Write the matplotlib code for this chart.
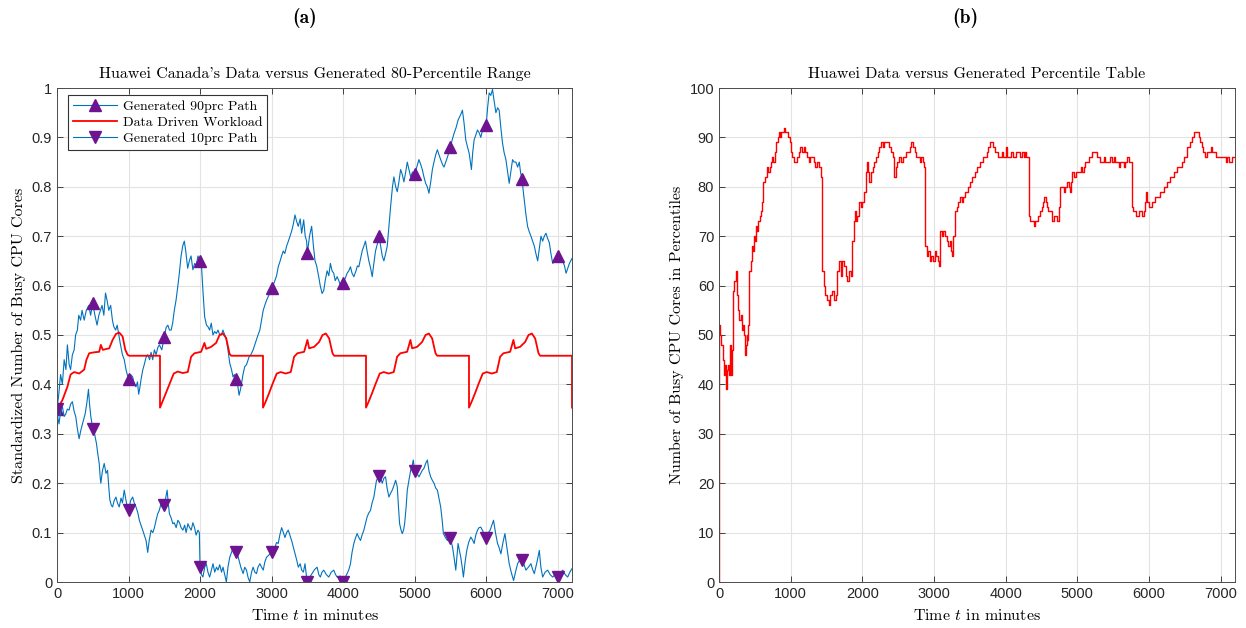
import numpy as np
import matplotlib
matplotlib.use("Agg")
import matplotlib.pyplot as plt

plt.rcParams['mathtext.fontset'] = 'cm'
plt.rcParams['font.family'] = ['Liberation Sans', 'DejaVu Sans']

# ---- panel (a): generated 90th percentile path ----
t_hi = [0, 25, 50, 75, 100, 125, 145, 170, 190, 215, 240, 260, 285, 304, 330, 350, 380, 410, 444, 470,
        500, 530, 560, 585, 607, 630, 655, 678, 700, 724, 750, 775, 794, 820, 841, 865, 888, 915, 940, 965,
        1000, 1030, 1058, 1080, 1104, 1125, 1142, 1160, 1175, 1200, 1220, 1245, 1268, 1295, 1315, 1338, 1362, 1385, 1410, 1432, 1465,
        1500, 1525, 1550, 1572, 1596, 1617, 1640, 1664, 1690, 1710, 1735, 1757, 1780, 1800, 1827, 1850, 1874, 1900, 1925, 1946, 1970,
        2000, 2020, 2040, 2064, 2090, 2110, 2134, 2157, 2180, 2204, 2228, 2251, 2275, 2298, 2320, 2345, 2368, 2390, 2415, 2440, 2461, 2480,
        2500, 2525, 2546, 2565, 2578, 2600, 2625, 2650, 2686, 2710, 2742, 2765, 2789, 2810, 2836, 2860, 2883, 2905, 2929, 2960,
        3000, 3020, 3046, 3070, 3093, 3120, 3140, 3163, 3185, 3210, 3235, 3257, 3280, 3305, 3327, 3350, 3373, 3400, 3420, 3449, 3470, 3490,
        3500, 3530, 3560, 3585, 3607, 3630, 3659, 3680, 3706, 3729, 3750, 3776, 3800, 3822, 3845, 3869, 3890, 3916, 3940, 3963,
        4000, 4030, 4056, 4080, 4103, 4125, 4150, 4180, 4200, 4220, 4245, 4266, 4290, 4313, 4335, 4360, 4385, 4407, 4430, 4453, 4480,
        4500, 4525, 4547, 4570, 4595, 4617, 4640, 4664, 4690, 4710, 4735, 4757, 4780, 4804, 4827, 4850, 4875, 4897, 4920, 4944, 4970,
        5000, 5030, 5060, 5085, 5107, 5130, 5154, 5177, 5200, 5225, 5248, 5270, 5295, 5318, 5340, 5364, 5390, 5411, 5435, 5458, 5480,
        5500, 5525, 5551, 5580, 5607, 5640, 5668, 5690, 5715, 5740, 5762, 5780, 5794, 5812, 5832, 5855, 5879, 5900, 5925, 5950, 5975,
        6000, 6020, 6042, 6065, 6089, 6110, 6136, 6160, 6182, 6205, 6229, 6250, 6276, 6300, 6322, 6345, 6369, 6390, 6416, 6440, 6463, 6480,
        6500, 6533, 6555, 6579, 6600, 6626, 6650, 6673, 6695, 6720, 6743, 6766, 6790, 6813, 6836, 6860, 6883, 6905, 6930, 6965,
        7000, 7035, 7070, 7095, 7117, 7140, 7164, 7200]
v_hi = [0.35, 0.38, 0.42, 0.40, 0.45, 0.43, 0.48, 0.44, 0.43, 0.46, 0.47, 0.50, 0.51, 0.54, 0.53, 0.55, 0.53, 0.55, 0.56, 0.54,
        0.564, 0.54, 0.52, 0.54, 0.55, 0.56, 0.54, 0.585, 0.57, 0.55, 0.56, 0.53, 0.517, 0.51, 0.52, 0.50, 0.48, 0.46, 0.45, 0.43,
        0.41, 0.42, 0.415, 0.40, 0.395, 0.405, 0.38, 0.395, 0.41, 0.43, 0.44, 0.455, 0.46, 0.45, 0.465, 0.45, 0.47, 0.46, 0.475, 0.48, 0.47,
        0.495, 0.515, 0.52, 0.51, 0.51, 0.524, 0.55, 0.57, 0.60, 0.625, 0.66, 0.68, 0.69, 0.67, 0.635, 0.65, 0.66, 0.632, 0.645, 0.64, 0.66,
        0.65, 0.64, 0.59, 0.537, 0.52, 0.517, 0.51, 0.524, 0.50, 0.507, 0.503, 0.51, 0.50, 0.50, 0.51, 0.50, 0.49, 0.47, 0.443, 0.43, 0.415, 0.42,
        0.41, 0.40, 0.378, 0.39, 0.40, 0.42, 0.436, 0.44, 0.456, 0.46, 0.47, 0.48, 0.49, 0.50, 0.51, 0.53, 0.55, 0.56, 0.57, 0.58,
        0.595, 0.60, 0.61, 0.62, 0.638, 0.65, 0.66, 0.67, 0.665, 0.68, 0.69, 0.70, 0.71, 0.725, 0.743, 0.73, 0.72, 0.735, 0.706, 0.733, 0.70, 0.69,
        0.665, 0.70, 0.72, 0.68, 0.65, 0.64, 0.618, 0.60, 0.584, 0.59, 0.61, 0.63, 0.62, 0.645, 0.63, 0.625, 0.61, 0.618, 0.61, 0.60,
        0.605, 0.615, 0.625, 0.63, 0.638, 0.625, 0.618, 0.63, 0.64, 0.638, 0.655, 0.67, 0.68, 0.69, 0.67, 0.65, 0.635, 0.618, 0.645, 0.67, 0.685,
        0.70, 0.68, 0.66, 0.65, 0.665, 0.68, 0.72, 0.76, 0.80, 0.82, 0.80, 0.79, 0.81, 0.835, 0.825, 0.81, 0.83, 0.85, 0.835, 0.82, 0.83,
        0.825, 0.84, 0.855, 0.845, 0.835, 0.82, 0.807, 0.80, 0.787, 0.81, 0.835, 0.85, 0.865, 0.875, 0.865, 0.855, 0.845, 0.84, 0.85, 0.86, 0.87,
        0.88, 0.895, 0.908, 0.92, 0.935, 0.945, 0.955, 0.93, 0.895, 0.88, 0.868, 0.85, 0.835, 0.87, 0.895, 0.905, 0.915, 0.91, 0.90, 0.915, 0.92,
        0.925, 0.96, 0.99, 0.985, 0.997, 0.975, 0.95, 0.96, 0.955, 0.92, 0.888, 0.87, 0.855, 0.83, 0.807, 0.83, 0.855, 0.85, 0.85, 0.84, 0.85, 0.83,
        0.815, 0.773, 0.745, 0.72, 0.71, 0.70, 0.69, 0.68, 0.665, 0.65, 0.675, 0.70, 0.69, 0.70, 0.706, 0.695, 0.687, 0.665, 0.645, 0.65,
        0.66, 0.655, 0.65, 0.64, 0.625, 0.635, 0.645, 0.655]

# ---- panel (a): generated 10th percentile path ----
t_lo = [0, 15, 28, 50, 75, 100, 122, 145, 168, 190, 215, 240, 262, 285, 309, 330, 356, 375, 393, 415, 440, 455, 473, 490,
        500, 525, 552, 570, 590, 605, 613, 635, 660, 685, 707, 725, 739, 760, 777, 800, 824, 845, 870, 895, 915, 940, 965, 985,
        1000, 1030, 1058, 1080, 1104, 1130, 1151, 1175, 1198, 1220, 1245, 1268, 1290, 1315, 1340, 1362, 1385, 1408, 1430, 1455, 1475,
        1500, 1520, 1540, 1555, 1572, 1595, 1619, 1640, 1666, 1690, 1713, 1735, 1760, 1785, 1805, 1830, 1855, 1876, 1900, 1923, 1945, 1970, 1990,
        2000, 2020, 2040, 2065, 2087, 2110, 2134, 2160, 2181, 2205, 2230, 2251, 2275, 2300, 2321, 2345, 2368, 2390, 2415, 2440, 2462, 2480,
        2500, 2525, 2545, 2570, 2602, 2625, 2649, 2670, 2695, 2720, 2742, 2765, 2789, 2810, 2836, 2860, 2883, 2905, 2929, 2965,
        3000, 3025, 3046, 3070, 3093, 3115, 3140, 3165, 3187, 3210, 3233, 3255, 3280, 3305, 3327, 3350, 3374, 3400, 3421, 3445, 3467, 3485,
        3500, 3535, 3565, 3600, 3636, 3660, 3682, 3705, 3729, 3765, 3800, 3835, 3869, 3895, 3916, 3960,
        4000, 4030, 4056, 4080, 4103, 4125, 4150, 4175, 4196, 4220, 4243, 4265, 4290, 4315, 4336, 4360, 4383, 4405, 4430, 4450, 4467, 4485,
        4500, 4525, 4547, 4570, 4593, 4615, 4640, 4665, 4687, 4710, 4734, 4757, 4775, 4790, 4810, 4827, 4845, 4860, 4880, 4897, 4920, 4944, 4965, 4981,
        5000, 5030, 5061, 5085, 5107, 5130, 5154, 5178, 5200, 5224, 5250, 5271, 5295, 5318, 5340, 5364, 5385, 5402, 5430, 5458, 5480,
        5500, 5530, 5551, 5575, 5590, 5607, 5625, 5645, 5665, 5682, 5705, 5729, 5755, 5785, 5810, 5832, 5855, 5879, 5900, 5925, 5965,
        6000, 6030, 6056, 6080, 6103, 6130, 6159, 6180, 6206, 6235, 6262, 6290, 6322, 6350, 6383, 6410, 6439, 6470,
        6500, 6530, 6556, 6590, 6626, 6650, 6673, 6710, 6743, 6765, 6790, 6825, 6860, 6895, 6930, 6965,
        7000, 7035, 7070, 7105, 7140, 7170, 7200]
v_lo = [0.35, 0.33, 0.32, 0.345, 0.355, 0.335, 0.34, 0.35, 0.348, 0.36, 0.365, 0.345, 0.335, 0.31, 0.29, 0.305, 0.32, 0.33, 0.34, 0.36, 0.39, 0.36, 0.335, 0.32,
        0.31, 0.30, 0.28, 0.26, 0.24, 0.21, 0.20, 0.225, 0.24, 0.22, 0.226, 0.19, 0.166, 0.155, 0.152, 0.165, 0.172, 0.16, 0.152, 0.17, 0.16, 0.186, 0.165, 0.15,
        0.145, 0.165, 0.172, 0.16, 0.152, 0.14, 0.125, 0.115, 0.105, 0.095, 0.084, 0.06, 0.085, 0.105, 0.10, 0.11, 0.125, 0.138, 0.145, 0.159, 0.15,
        0.155, 0.17, 0.186, 0.16, 0.138, 0.13, 0.118, 0.12, 0.11, 0.125, 0.12, 0.11, 0.105, 0.115, 0.10, 0.118, 0.11, 0.105, 0.12, 0.11, 0.095, 0.105, 0.10,
        0.03, 0.015, 0.01, 0.03, 0.037, 0.02, 0.01, 0.025, 0.037, 0.02, 0.03, 0.024, 0.035, 0.02, 0.03, 0.015, 0.0, 0.03, 0.05, 0.06, 0.07, 0.065,
        0.06, 0.055, 0.044, 0.03, 0.017, 0.03, 0.024, 0.01, 0.0, 0.02, 0.03, 0.02, 0.017, 0.03, 0.037, 0.03, 0.024, 0.04, 0.05, 0.055,
        0.06, 0.065, 0.07, 0.08, 0.078, 0.095, 0.11, 0.10, 0.09, 0.10, 0.105, 0.095, 0.084, 0.07, 0.057, 0.045, 0.03, 0.037, 0.024, 0.02, 0.037, 0.015,
        0.0, 0.01, 0.017, 0.025, 0.03, 0.015, 0.01, 0.02, 0.024, 0.015, 0.01, 0.02, 0.024, 0.015, 0.01, 0.012,
        0.0, 0.01, 0.017, 0.025, 0.037, 0.06, 0.078, 0.09, 0.098, 0.09, 0.084, 0.095, 0.105, 0.12, 0.132, 0.14, 0.145, 0.16, 0.172, 0.19, 0.206, 0.21,
        0.215, 0.21, 0.20, 0.21, 0.213, 0.19, 0.172, 0.18, 0.186, 0.195, 0.206, 0.193, 0.15, 0.118, 0.105, 0.098, 0.105, 0.118, 0.15, 0.186, 0.205, 0.226, 0.235, 0.247,
        0.225, 0.22, 0.213, 0.22, 0.226, 0.23, 0.24, 0.247, 0.225, 0.213, 0.205, 0.20, 0.19, 0.186, 0.17, 0.152, 0.125, 0.098, 0.09, 0.084, 0.09,
        0.09, 0.07, 0.05, 0.024, 0.05, 0.078, 0.065, 0.05, 0.03, 0.01, 0.04, 0.064, 0.08, 0.091, 0.085, 0.078, 0.095, 0.105, 0.11, 0.111, 0.10,
        0.09, 0.10, 0.105, 0.115, 0.125, 0.10, 0.078, 0.07, 0.057, 0.08, 0.098, 0.07, 0.037, 0.02, 0.003, 0.02, 0.037, 0.045,
        0.045, 0.035, 0.024, 0.03, 0.037, 0.025, 0.017, 0.04, 0.064, 0.03, 0.01, 0.02, 0.024, 0.015, 0.01, 0.015,
        0.01, 0.015, 0.024, 0.015, 0.01, 0.02, 0.027]

# ---- panel (a): data driven workload ----
t_wl = [0, 75, 145, 190, 240, 310, 380, 412, 450, 520, 590, 613, 640, 730, 777, 824, 870, 917, 955, 987, 1010, 1440,
        1440, 1477, 1524, 1571, 1632, 1688, 1758, 1828, 1875, 1921, 2015, 2061, 2085, 2155, 2225, 2272, 2319, 2365, 2412, 2435, 2880,
        2880, 2917, 2964, 3011, 3072, 3128, 3198, 3268, 3315, 3361, 3455, 3501, 3525, 3595, 3665, 3712, 3759, 3805, 3852, 3875, 4320,
        4320, 4357, 4404, 4451, 4512, 4568, 4638, 4708, 4755, 4801, 4895, 4941, 4965, 5035, 5105, 5152, 5199, 5245, 5292, 5315, 5760,
        5760, 5797, 5844, 5891, 5952, 6008, 6078, 6148, 6195, 6241, 6335, 6381, 6405, 6475, 6545, 6592, 6639, 6685, 6732, 6755, 7200,
        7200]
v_wl = [0.35, 0.368, 0.395, 0.42, 0.425, 0.422, 0.43, 0.45, 0.463, 0.465, 0.466, 0.48, 0.47, 0.473, 0.49, 0.502, 0.505, 0.497, 0.47, 0.46, 0.458, 0.458,
        0.353, 0.366, 0.383, 0.40, 0.422, 0.426, 0.423, 0.425, 0.456, 0.463, 0.466, 0.484, 0.472, 0.476, 0.484, 0.50, 0.503, 0.494, 0.462, 0.458, 0.458,
        0.353, 0.365, 0.382, 0.40, 0.422, 0.425, 0.422, 0.425, 0.456, 0.463, 0.466, 0.49, 0.473, 0.476, 0.486, 0.50, 0.503, 0.493, 0.463, 0.458, 0.458,
        0.353, 0.365, 0.382, 0.40, 0.422, 0.425, 0.422, 0.425, 0.456, 0.463, 0.466, 0.49, 0.473, 0.476, 0.486, 0.50, 0.503, 0.493, 0.463, 0.458, 0.458,
        0.353, 0.365, 0.382, 0.40, 0.422, 0.425, 0.422, 0.425, 0.456, 0.463, 0.466, 0.49, 0.473, 0.476, 0.486, 0.50, 0.503, 0.493, 0.463, 0.458, 0.458,
        0.353]

# ---- panel (b): percentile table ----
t_pct = [0, 5, 20, 33, 50, 70, 85, 101, 115, 128, 140, 154, 170, 185, 197, 215, 234, 245, 253, 270, 281, 300, 315, 328, 347, 361, 375, 384, 395, 408,
         422, 440, 455, 470, 490, 502, 520, 534, 550, 572, 585, 595, 610, 619, 642, 665, 689, 705, 722, 740, 759, 775, 797, 820, 840, 853, 870, 900,
         925, 947, 965, 984, 1000, 1017, 1040, 1064, 1085, 1111, 1130, 1158, 1180, 1205, 1230, 1252, 1275, 1299, 1320, 1345, 1370, 1392, 1410, 1425,
         1439, 1463, 1486, 1510, 1533, 1555, 1580, 1600, 1627, 1650, 1670, 1697, 1720, 1744, 1770, 1791, 1815, 1838, 1861, 1880, 1894, 1915, 1932,
         1955, 1978, 2000, 2025, 2049, 2065, 2082, 2100, 2119, 2145, 2166, 2190, 2213, 2235, 2260, 2285, 2307, 2340, 2377, 2400, 2424, 2447, 2465,
         2485, 2510, 2541, 2565, 2588, 2610, 2635, 2660, 2682, 2705, 2729, 2750, 2775, 2800, 2822, 2845, 2860, 2878, 2900, 2916, 2940, 2963, 2985,
         3010, 3030, 3049, 3068, 3082, 3105, 3128, 3150, 3175, 3200, 3221, 3240, 3254, 3270, 3291, 3315, 3338, 3360, 3385, 3410, 3431, 3455, 3478,
         3500, 3524, 3548, 3571, 3595, 3618, 3640, 3664, 3690, 3711, 3735, 3758, 3780, 3795, 3828, 3850, 3874, 3900, 3921, 3945, 3967, 4000, 4025,
         4047, 4075, 4107, 4140, 4168, 4195, 4224, 4250, 4270, 4290, 4308, 4326, 4345, 4364, 4390, 4410, 4435, 4457, 4480, 4503, 4525, 4541, 4557,
         4573, 4597, 4620, 4640, 4653, 4670, 4690, 4710, 4727, 4745, 4760, 4785, 4807, 4830, 4853, 4878, 4900, 4915, 4932, 4955, 4979, 5000, 5026,
         5050, 5072, 5090, 5110, 5135, 5156, 5180, 5203, 5225, 5249, 5270, 5296, 5320, 5343, 5366, 5389, 5410, 5436, 5460, 5483, 5505, 5529, 5550,
         5576, 5600, 5622, 5645, 5669, 5690, 5716, 5735, 5748, 5762, 5780, 5800, 5815, 5832, 5855, 5879, 5900, 5925, 5945, 5958, 5970, 5986, 6000,
         6019, 6040, 6065, 6090, 6112, 6135, 6159, 6180, 6205, 6230, 6252, 6275, 6298, 6320, 6345, 6370, 6392, 6415, 6438, 6460, 6485, 6508, 6531,
         6555, 6578, 6600, 6625, 6650, 6671, 6695, 6718, 6735, 6751, 6770, 6788, 6810, 6834, 6860, 6881, 6905, 6928, 6950, 6974, 7000, 7021, 7045,
         7068, 7090, 7114, 7140, 7161, 7184, 7200]
v_pct = [0, 52, 50, 48, 45, 42, 44, 39, 43, 44, 42, 48, 42, 47, 59, 61, 63, 60, 58, 55, 53, 54, 51, 52, 50, 46, 48, 50, 49, 52,
         63, 65, 68, 67, 70, 69, 72, 71, 73, 74, 75, 77, 79, 81, 82, 84, 83, 84, 85, 86, 85, 87, 89, 90, 91, 90, 91, 92,
         91, 91, 90, 89, 87, 86, 85, 85, 86, 87, 88, 87, 88, 87, 86, 85, 86, 86, 85, 84, 85, 84, 84, 82,
         63, 60, 58, 57, 56, 58, 59, 57, 58, 63, 65, 62, 65, 64, 62, 61, 63, 62, 69, 73, 75, 73, 74,
         77, 76, 77, 79, 83, 85, 83, 81, 83, 84, 85, 86, 87, 88, 89, 88, 89, 89, 88, 87, 86, 82, 84,
         85, 86, 85, 86, 86, 87, 87, 88, 89, 88, 87, 86, 86, 85, 86, 85, 84, 68, 66, 67, 65, 66, 65,
         67, 66, 65, 64, 71, 70, 71, 70, 69, 68, 69, 67, 66, 70, 75, 76, 77, 78, 77, 78, 79, 79, 80,
         81, 82, 82, 83, 84, 84, 85, 85, 86, 86, 87, 88, 89, 89, 88, 87, 87, 86, 86, 87, 86, 88, 86,
         86, 87, 86, 87, 87, 86, 87, 86, 87, 86, 86, 74, 73, 73, 72, 73, 73, 74, 75, 76, 77, 78, 77,
         76, 75, 75, 74, 73, 74, 74, 73, 73, 76, 80, 80, 79, 80, 81, 80, 79, 81, 83, 82, 83, 83, 83,
         84, 83, 84, 85, 85, 86, 86, 87, 87, 87, 86, 86, 85, 85, 86, 85, 85, 85, 86, 85, 86, 85, 85,
         84, 85, 85, 84, 85, 86, 85, 85, 85, 76, 75, 75, 74, 74, 75, 75, 74, 75, 77, 79, 77, 77, 76,
         76, 77, 77, 78, 78, 78, 79, 79, 80, 80, 81, 81, 82, 82, 83, 83, 84, 84, 84, 85, 86, 86, 88,
         88, 89, 90, 91, 91, 91, 90, 89, 88, 87, 87, 86, 87, 87, 88, 87, 87, 86, 86, 86, 86, 86, 86,
         85, 86, 85, 85, 86, 86, 86]

marker_times = [0, 500, 1000, 1500, 2000, 2500, 3000, 3500, 4000, 4500, 5000, 5500, 6000, 6500, 7000]

blue = '#0072BD'
purple = '#6e1490'
grid_c = '#e3e3e3'
spine_c = '#4d4d4d'


def style_axes(ax):
    ax.grid(True, color=grid_c, linewidth=0.8)
    ax.set_axisbelow(True)
    ax.tick_params(direction='in', top=True, right=True, length=4, width=0.6,
                   colors='#262626', labelsize=10.5)
    for s in ax.spines.values():
        s.set_color(spine_c)
        s.set_linewidth(0.7)


fig = plt.figure(figsize=(12.46, 6.28), dpi=100)

# panel (a)
ax1 = fig.add_axes([57 / 1246, 1 - 582 / 628, 515 / 1246, 494 / 628])
idx_hi = np.where(np.isin(t_hi, marker_times))[0].tolist()
idx_lo = np.where(np.isin(t_lo, marker_times))[0].tolist()
ax1.plot(t_hi, v_hi, color=blue, lw=0.8, marker='^', markevery=idx_hi, ms=8,
         mfc=purple, mec=purple, label='Generated 90prc Path')
ax1.plot(t_wl, v_wl, color='red', lw=1.3, label='Data Driven Workload')
ax1.plot(t_lo, v_lo, color=blue, lw=0.8, marker='v', markevery=idx_lo, ms=8,
         mfc=purple, mec=purple, label='Generated 10prc Path')
ax1.set_xlim(0, 7200)
ax1.set_ylim(0, 1)
ax1.set_xticks(range(0, 7001, 1000))
ax1.set_yticks(np.arange(0, 1.01, 0.1))
ax1.set_yticklabels(['0', '0.1', '0.2', '0.3', '0.4', '0.5', '0.6', '0.7', '0.8', '0.9', '1'])
style_axes(ax1)
ax1.set_title("Huawei Canada's Data versus Generated 80-Percentile Range",
              family='cmr10', fontsize=11.5, pad=7)
ax1.set_xlabel('Time $t$ in minutes', family='cmr10', fontsize=11.5, labelpad=5)
ax1.set_ylabel('Standardized Number of Busy CPU Cores', family='cmr10', fontsize=11.5, labelpad=4)
leg = ax1.legend(loc='upper left', bbox_to_anchor=(11 / 515, 1 - 7 / 494), borderaxespad=0,
                 prop={'family': 'cmr10', 'size': 10}, handlelength=3.2, handletextpad=0.4,
                 labelspacing=0.25, borderpad=0.35, fancybox=False, numpoints=1, framealpha=1)
leg.get_frame().set_edgecolor('#333333')
leg.get_frame().set_linewidth(0.8)

# panel (b)
ax2 = fig.add_axes([719 / 1246, 1 - 582 / 628, 516 / 1246, 494 / 628])
ax2.plot(t_pct, v_pct, color='red', lw=1.0, drawstyle='steps-post')
ax2.set_xlim(0, 7200)
ax2.set_ylim(0, 100)
ax2.set_xticks(range(0, 7001, 1000))
ax2.set_yticks(range(0, 101, 10))
style_axes(ax2)
ax2.set_title('Huawei Data versus Generated Percentile Table',
              family='cmr10', fontsize=11.5, pad=7)
ax2.set_xlabel('Time $t$ in minutes', family='cmr10', fontsize=11.5, labelpad=5)
ax2.set_ylabel('Number of Busy CPU Cores in Percentiles', family='cmr10', fontsize=11.5, labelpad=4)

fig.text(305 / 1246, 1 - 18 / 628, '(a)', family='cmb10', fontsize=14, ha='center', va='center')
fig.text(965 / 1246, 1 - 18 / 628, '(b)', family='cmb10', fontsize=14, ha='center', va='center')

fig.savefig('out.png', dpi=100)
